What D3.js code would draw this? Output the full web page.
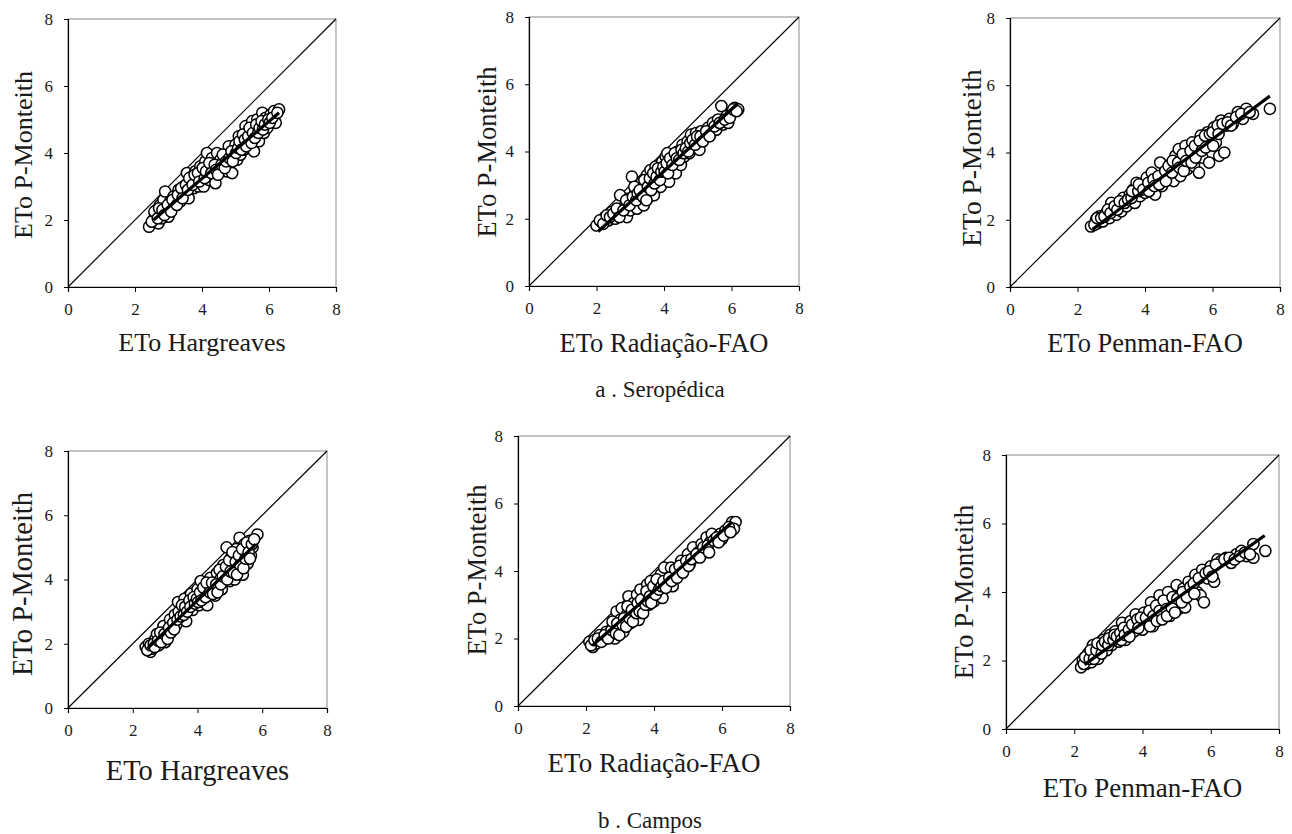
<!DOCTYPE html>
<html><head><meta charset="utf-8">
<script src="https://cdn.jsdelivr.net/npm/d3@7"></script>
<style>
body{margin:0;background:#fff}
text{font-family:"Liberation Serif","Times New Roman",serif;fill:#1a1a1a}
</style>
</head><body><svg id="c" width="1292" height="834"></svg>
<script>
// ---------- DATA ----------
const axisTicks = [0, 2, 4, 6, 8];
const yAxisLabel = "ETo P-Monteith";
const xAxisLabels = ["ETo Hargreaves", "ETo Radiação-FAO", "ETo Penman-FAO",
                     "ETo Hargreaves", "ETo Radiação-FAO", "ETo Penman-FAO"];
const captions = ["a . Seropédica", "b . Campos"];

const seropedicaHargreaves = [[2.42,1.80],[2.55,2.00],[2.60,2.15],[2.65,2.30],[2.70,1.90],[2.75,2.45],[2.80,2.05],[2.85,2.60],[2.90,2.85],[2.95,2.30],[3.00,2.10],[3.05,2.55],[3.10,2.40],[3.15,2.70],[3.20,2.60],[3.30,2.90],[3.35,2.55],[3.40,2.80],[3.45,3.00],[3.50,2.75],[3.55,3.40],[3.60,2.65],[3.65,3.10],[3.70,3.30],[3.75,2.95],[3.80,3.45],[3.85,3.20],[3.90,3.00],[3.95,3.60],[4.00,3.40],[4.05,3.00],[4.10,3.75],[4.15,4.00],[4.20,3.20],[4.25,3.55],[4.30,3.85],[4.35,3.30],[4.40,3.10],[4.45,4.00],[4.50,3.60],[4.55,3.80],[4.60,3.50],[4.70,3.90],[4.75,3.45],[4.80,4.20],[4.85,3.70],[4.90,3.40],[4.95,4.05],[5.00,4.25],[5.05,3.80],[5.10,4.50],[5.15,3.95],[5.20,4.30],[5.25,4.10],[5.30,4.80],[5.35,4.60],[5.40,4.20],[5.45,4.40],[5.50,4.95],[5.55,4.05],[5.60,4.70],[5.65,5.00],[5.70,4.35],[5.75,4.85],[5.80,5.20],[5.85,4.60],[5.90,5.05],[5.95,4.75],[6.05,5.15],[6.15,5.25],[6.20,4.90],[6.30,5.30],
  [2.50,1.95],[2.58,2.25],[2.68,2.05],[2.72,2.35],[2.82,2.30],[2.88,2.15],[2.98,2.45],[3.08,2.25],[3.12,2.60],[3.25,2.45],[3.28,2.75],[3.38,2.95],[3.42,2.65],[3.52,3.05],[3.58,2.90],[3.62,3.25],[3.72,3.05],[3.78,3.35],[3.88,3.40],[3.92,3.15],[4.02,3.55],[4.08,3.25],[4.12,3.45],[4.22,3.70],[4.28,3.40],[4.38,3.65],[4.42,3.50],[4.48,3.35],[4.58,3.65],[4.62,3.95],[4.68,3.55],[4.72,3.75],[4.82,3.85],[4.88,4.05],[4.92,3.75],[5.02,4.00],[5.08,4.15],[5.12,4.35],[5.18,4.10],[5.22,4.55],[5.28,4.40],[5.32,4.20],[5.38,4.50],[5.42,4.75],[5.48,4.30],[5.52,4.60],[5.58,4.45],[5.62,4.85],[5.68,4.60],[5.72,4.75],[5.78,4.95],[5.82,4.70],[5.88,4.85],[5.98,5.00],[6.02,4.90],[6.10,5.05],[6.25,5.20]];

const seropedicaRadiacao = [[2.00,1.80],[2.15,1.90],[2.25,2.05],[2.35,1.95],[2.45,2.20],[2.55,2.00],[2.65,2.25],[2.70,2.70],[2.75,2.10],[2.85,2.40],[2.90,2.05],[2.95,2.60],[3.00,2.25],[3.05,3.25],[3.10,2.45],[3.15,2.80],[3.20,2.30],[3.25,3.00],[3.30,2.55],[3.35,3.10],[3.40,2.40],[3.45,2.85],[3.50,3.30],[3.55,2.65],[3.60,3.45],[3.65,3.00],[3.70,2.70],[3.75,3.55],[3.80,3.10],[3.85,3.35],[3.90,2.95],[3.95,3.70],[4.00,3.20],[4.05,3.85],[4.10,3.95],[4.15,3.10],[4.20,3.50],[4.30,3.70],[4.35,3.35],[4.40,4.00],[4.50,3.60],[4.55,4.20],[4.60,3.85],[4.70,4.30],[4.75,3.95],[4.80,4.50],[4.90,4.10],[4.95,4.55],[5.00,4.30],[5.05,4.05],[5.10,4.60],[5.20,4.40],[5.30,4.70],[5.40,4.55],[5.45,4.85],[5.55,4.65],[5.60,4.95],[5.70,5.35],[5.75,4.80],[5.85,5.05],[5.90,4.85],[6.00,5.15],[6.10,5.30],[6.20,5.25],
  [2.10,1.95],[2.20,1.85],[2.30,2.10],[2.40,2.05],[2.50,2.15],[2.60,2.30],[2.68,2.05],[2.80,2.25],[2.88,2.55],[2.98,2.40],[3.08,2.65],[3.12,2.95],[3.18,2.55],[3.22,2.75],[3.28,2.85],[3.38,2.65],[3.42,3.15],[3.48,2.55],[3.52,2.95],[3.58,3.20],[3.62,2.85],[3.68,3.35],[3.72,3.05],[3.78,3.25],[3.82,3.50],[3.88,3.15],[3.92,3.40],[3.98,3.55],[4.02,3.40],[4.08,3.65],[4.12,3.35],[4.18,3.80],[4.25,3.60],[4.32,3.95],[4.38,3.80],[4.45,3.75],[4.52,4.05],[4.58,3.95],[4.65,4.10],[4.72,4.00],[4.78,4.25],[4.85,4.35],[4.92,4.20],[4.98,4.45],[5.08,4.45],[5.15,4.30],[5.25,4.60],[5.35,4.45],[5.50,4.75],[5.65,4.85],[5.80,4.95],[5.95,5.00],[6.05,5.25],[6.15,5.20]];

const seropedicaPenman = [[2.40,1.80],[2.55,2.00],[2.60,1.90],[2.65,2.10],[2.75,1.95],[2.85,2.20],[2.95,2.05],[3.00,2.50],[3.05,2.30],[3.15,2.15],[3.20,2.45],[3.30,2.25],[3.35,2.65],[3.45,2.40],[3.55,2.75],[3.65,2.90],[3.70,2.50],[3.75,3.10],[3.85,2.70],[3.90,3.00],[4.00,2.80],[4.05,3.25],[4.15,2.95],[4.20,3.40],[4.30,2.75],[4.35,3.10],[4.45,3.70],[4.50,3.00],[4.55,3.35],[4.65,3.20],[4.75,3.55],[4.85,3.15],[4.90,3.90],[4.95,3.45],[5.00,4.10],[5.05,3.30],[5.10,3.70],[5.20,4.20],[5.25,3.50],[5.30,3.90],[5.40,4.30],[5.45,3.60],[5.55,4.10],[5.60,3.40],[5.65,4.50],[5.70,3.85],[5.75,4.25],[5.85,4.60],[5.90,3.70],[5.95,4.40],[6.05,4.75],[6.10,4.30],[6.20,3.90],[6.25,4.95],[6.35,4.00],[6.40,4.80],[6.50,5.00],[6.60,4.85],[6.75,5.20],[6.90,5.00],[7.00,5.30],[7.20,5.15],[7.70,5.30],
  [2.50,1.85],[2.58,2.05],[2.70,2.05],[2.80,2.10],[2.90,2.30],[2.98,2.20],[3.10,2.40],[3.18,2.30],[3.25,2.55],[3.40,2.50],[3.50,2.60],[3.60,2.65],[3.62,2.85],[3.80,2.85],[3.82,3.05],[3.95,2.90],[4.10,3.10],[4.12,2.85],[4.25,3.20],[4.28,3.00],[4.40,3.30],[4.42,3.05],[4.60,3.45],[4.62,3.15],[4.70,3.60],[4.80,3.40],[4.82,3.75],[4.98,3.70],[5.02,3.55],[5.12,3.95],[5.15,3.45],[5.22,3.75],[5.35,4.05],[5.38,3.70],[5.48,4.20],[5.50,3.85],[5.62,4.35],[5.68,4.05],[5.78,4.50],[5.80,4.15],[5.92,4.55],[6.00,4.60],[6.02,4.20],[6.15,4.80],[6.18,4.55],[6.30,4.85],[6.45,4.90],[6.55,4.80],[6.70,5.05],[6.85,5.15],[7.10,5.20]];

const camposHargreaves = [[2.40,1.90],[2.50,2.00],[2.55,1.75],[2.60,1.85],[2.70,2.15],[2.75,2.30],[2.80,1.95],[2.90,2.20],[2.95,2.55],[3.00,2.05],[3.05,2.40],[3.10,2.25],[3.15,2.75],[3.20,2.50],[3.30,2.90],[3.35,2.60],[3.40,3.30],[3.45,2.80],[3.50,3.10],[3.55,2.95],[3.60,3.40],[3.65,2.70],[3.70,3.25],[3.80,3.55],[3.85,3.05],[3.90,3.35],[4.00,3.70],[4.05,3.20],[4.10,3.95],[4.15,3.50],[4.20,3.30],[4.30,3.20],[4.35,3.80],[4.40,4.05],[4.50,3.65],[4.55,3.50],[4.60,4.20],[4.70,4.00],[4.75,3.70],[4.80,4.45],[4.85,4.15],[4.90,5.00],[4.95,4.35],[5.00,3.95],[5.05,4.70],[5.10,4.50],[5.15,4.00],[5.20,4.95],[5.25,4.30],[5.30,5.30],[5.35,4.60],[5.40,4.15],[5.45,5.10],[5.50,4.80],[5.55,4.50],[5.60,5.20],[5.65,4.75],[5.70,5.00],[5.85,5.40],
  [2.45,1.80],[2.55,1.95],[2.65,2.00],[2.68,1.90],[2.78,2.10],[2.85,2.35],[2.88,2.05],[2.98,2.30],[3.08,2.15],[3.12,2.50],[3.18,2.35],[3.25,2.65],[3.28,2.45],[3.38,2.75],[3.42,3.00],[3.48,2.85],[3.52,3.20],[3.58,2.90],[3.62,3.15],[3.68,3.00],[3.75,3.35],[3.78,3.15],[3.88,3.45],[3.92,3.25],[3.98,3.40],[4.02,3.30],[4.08,3.60],[4.12,3.35],[4.18,3.75],[4.25,3.45],[4.28,3.90],[4.38,3.60],[4.45,3.90],[4.48,3.55],[4.58,3.85],[4.62,3.60],[4.68,4.30],[4.72,3.85],[4.78,4.10],[4.88,4.40],[4.92,4.00],[4.98,4.60],[5.02,4.25],[5.08,4.85],[5.12,4.20],[5.18,4.55],[5.22,4.15],[5.28,4.75],[5.32,4.45],[5.38,4.95],[5.42,4.35],[5.48,4.65],[5.52,5.15],[5.58,4.85],[5.62,4.65],[5.68,5.10],[5.75,5.25]];

const camposRadiacao = [[2.10,1.90],[2.20,1.75],[2.30,1.85],[2.40,2.10],[2.50,1.95],[2.60,2.20],[2.70,2.05],[2.80,2.35],[2.85,2.00],[2.90,2.80],[2.95,2.25],[3.00,2.55],[3.05,2.90],[3.10,2.20],[3.20,2.70],[3.25,3.25],[3.30,2.45],[3.40,3.05],[3.45,2.65],[3.50,3.30],[3.55,2.55],[3.60,3.45],[3.65,2.90],[3.70,3.20],[3.80,3.60],[3.85,3.00],[3.90,3.70],[3.95,3.35],[4.00,3.10],[4.10,3.50],[4.20,3.90],[4.25,3.20],[4.30,4.10],[4.40,3.70],[4.50,4.10],[4.55,3.55],[4.60,3.90],[4.70,4.00],[4.80,4.30],[4.90,4.10],[5.00,4.50],[5.05,4.20],[5.15,4.70],[5.20,4.40],[5.30,4.55],[5.40,4.80],[5.50,4.60],[5.55,5.00],[5.65,4.85],[5.70,5.10],[5.80,4.95],[5.95,5.10],[6.00,4.95],[6.10,5.20],[6.30,5.45],[6.40,5.45],[6.35,5.25],
  [2.15,1.80],[2.25,1.95],[2.35,2.00],[2.45,1.90],[2.55,2.10],[2.65,2.00],[2.75,2.25],[2.78,2.50],[2.88,2.15],[2.92,2.45],[2.98,2.10],[3.08,2.40],[3.12,2.60],[3.18,2.35],[3.22,2.95],[3.28,2.60],[3.35,2.85],[3.38,2.50],[3.48,2.75],[3.52,3.05],[3.58,2.80],[3.62,3.15],[3.68,2.75],[3.75,3.00],[3.78,3.40],[3.82,3.10],[3.88,3.25],[3.92,3.05],[3.98,3.55],[4.05,3.30],[4.08,3.75],[4.15,3.45],[4.22,3.55],[4.28,3.70],[4.35,3.50],[4.45,3.80],[4.52,3.70],[4.62,4.05],[4.68,3.80],[4.75,4.15],[4.85,3.95],[4.95,4.30],[5.02,4.15],[5.10,4.35],[5.25,4.50],[5.35,4.40],[5.45,4.70],[5.58,4.75],[5.62,4.55],[5.75,4.90],[5.85,5.00],[5.90,4.85],[6.05,5.05],[6.20,5.30],[6.25,5.15]];

const camposPenman = [[2.20,1.80],[2.25,2.00],[2.35,1.90],[2.40,2.20],[2.50,1.95],[2.55,2.45],[2.60,2.15],[2.70,2.05],[2.75,2.35],[2.85,2.60],[2.95,2.30],[3.05,2.75],[3.10,2.45],[3.20,2.85],[3.30,2.55],[3.40,3.10],[3.50,2.60],[3.55,2.95],[3.65,3.15],[3.75,2.85],[3.80,3.35],[3.90,3.05],[4.00,2.90],[4.05,3.40],[4.15,3.10],[4.25,3.70],[4.30,3.00],[4.35,3.50],[4.45,3.25],[4.50,3.90],[4.55,3.40],[4.65,3.60],[4.75,4.00],[4.80,3.30],[4.90,3.70],[5.00,4.20],[5.05,3.50],[5.10,3.90],[5.20,4.10],[5.25,3.55],[5.35,4.30],[5.45,4.05],[5.55,4.50],[5.60,4.00],[5.70,3.90],[5.75,4.65],[5.80,3.70],[5.90,4.40],[6.00,4.75],[6.10,4.30],[6.20,4.95],[6.30,4.90],[6.45,5.00],[6.60,4.85],[6.75,5.10],[6.90,5.20],[7.05,5.05],[7.25,5.40],[7.25,5.00],[7.60,5.20],
  [2.28,1.90],[2.32,2.10],[2.45,2.05],[2.48,2.30],[2.58,2.05],[2.65,2.30],[2.68,2.50],[2.80,2.20],[2.82,2.45],[2.90,2.55],[3.00,2.45],[3.02,2.65],[3.15,2.60],[3.18,2.75],[3.25,2.70],[3.35,2.80],[3.38,2.60],[3.45,2.95],[3.48,2.75],[3.60,2.90],[3.62,2.70],[3.70,3.05],[3.85,3.20],[3.88,2.95],[3.95,3.25],[4.10,3.25],[4.20,3.45],[4.22,3.00],[4.32,3.30],[4.40,3.60],[4.42,3.15],[4.50,3.45],[4.58,3.20],[4.62,3.75],[4.70,3.50],[4.72,3.30],[4.85,3.55],[4.88,3.85],[4.95,3.40],[5.02,3.80],[5.15,3.70],[5.18,4.00],[5.30,3.85],[5.40,4.15],[5.50,4.25],[5.52,3.95],[5.65,4.40],[5.85,4.55],[5.95,4.60],[6.05,4.45],[6.15,4.80],[6.40,4.95],[6.55,5.00],[6.70,4.95],[6.85,5.05],[7.00,5.15],[7.15,5.10]];

// regression line end points [x, y]
const fitSeropedicaHargreaves = [[2.55, 2.00], [6.30, 5.20]];
const fitSeropedicaRadiacao  = [[2.05, 1.62], [6.18, 5.42]];
const fitSeropedicaPenman    = [[2.45, 1.72], [7.70, 5.68]];
const fitCamposHargreaves    = [[2.45, 1.85], [5.80, 5.10]];
const fitCamposRadiacao      = [[2.20, 1.80], [6.30, 5.45]];
const fitCamposPenman        = [[2.30, 1.88], [7.58, 5.65]];

const panelData = [seropedicaHargreaves, seropedicaRadiacao, seropedicaPenman,
                   camposHargreaves, camposRadiacao, camposPenman];
const panelFits = [fitSeropedicaHargreaves, fitSeropedicaRadiacao, fitSeropedicaPenman,
                   fitCamposHargreaves, fitCamposRadiacao, fitCamposPenman];

// ---------- LAYOUT ----------
const layout = [
  {l:68,   t:19,  w:268, h:268, ylx:23,  yly:155, ys:26,   xly:342, xs:26},
  {l:529,  t:17,  w:270, h:269, ylx:487, yly:152, ys:26.5, xly:343, xs:26.5},
  {l:1010, t:18,  w:270, h:269, ylx:971, yly:158, ys:27.5, xly:343, xs:26.5},
  {l:68,   t:451, w:259, h:257, ylx:22,  yly:584, ys:28.5, xly:770, xs:28.5},
  {l:518,  t:436, w:272, h:270, ylx:477, yly:570, ys:26.5, xly:763, xs:27},
  {l:1006, t:455, w:273, h:274, ylx:964, yly:592, ys:27,   xly:788, xs:27}
];
const captionPos = [{x:660, y:389}, {x:650, y:820}];
const serif = '"Liberation Serif", "Times New Roman", serif';

const svg = d3.select("#c");
svg.append("rect").attr("width",1292).attr("height",834).attr("fill","#fff");

layout.forEach((L, i) => {
  const x = d3.scaleLinear().domain([0, 8]).range([L.l, L.l + L.w]);
  const y = d3.scaleLinear().domain([0, 8]).range([L.t + L.h, L.t]);
  const g = svg.append("g");

  // plot-area frame (grey)
  g.append("rect").attr("x", L.l).attr("y", L.t).attr("width", L.w).attr("height", L.h)
    .attr("fill", "none").attr("stroke", "#8a8a8a").attr("stroke-width", 1);

  // axes
  const xa = g.append("g").attr("transform", `translate(0,${L.t + L.h})`)
    .call(d3.axisBottom(x).tickValues(axisTicks).tickSize(5).tickPadding(11).tickFormat(d3.format("d")));
  const ya = g.append("g").attr("transform", `translate(${L.l},0)`)
    .call(d3.axisLeft(y).tickValues(axisTicks).tickSize(4).tickPadding(11).tickFormat(d3.format("d")));
  [xa, ya].forEach(a => {
    a.attr("font-family", serif).attr("font-size", 17);
    a.select(".domain").attr("stroke", "#000").attr("stroke-width", 1.2);
    a.selectAll(".tick line").attr("stroke", "#000");
    a.selectAll(".tick text").attr("fill", "#222").attr("font-family", serif).attr("font-size", 17);
  });

  // 1:1 line
  g.append("line").attr("x1", x(0)).attr("y1", y(0)).attr("x2", x(8)).attr("y2", y(8))
    .attr("stroke", "#000").attr("stroke-width", 1.2);

  // points
  g.selectAll("circle.pt").data(panelData[i]).join("circle").attr("class", "pt")
    .attr("cx", d => x(d[0])).attr("cy", d => y(d[1])).attr("r", 5.6)
    .attr("fill", "#fff").attr("stroke", "#000").attr("stroke-width", 1.5);

  // regression line
  const f = panelFits[i];
  g.append("line").attr("x1", x(f[0][0])).attr("y1", y(f[0][1]))
    .attr("x2", x(f[1][0])).attr("y2", y(f[1][1]))
    .attr("stroke", "#000").attr("stroke-width", 3.2);

  // labels
  g.append("text").attr("transform", `translate(${L.ylx},${L.yly}) rotate(-90)`)
    .attr("text-anchor", "middle").attr("dominant-baseline", "central")
    .attr("font-size", L.ys).text(yAxisLabel);
  g.append("text").attr("x", L.l + L.w / 2).attr("y", L.xly)
    .attr("text-anchor", "middle").attr("dominant-baseline", "central")
    .attr("font-size", L.xs).text(xAxisLabels[i]);
});

captions.forEach((c, i) => {
  svg.append("text").attr("x", captionPos[i].x).attr("y", captionPos[i].y)
    .attr("text-anchor", "middle").attr("dominant-baseline", "central")
    .attr("font-size", 23).text(c);
});
</script>
</body></html>
